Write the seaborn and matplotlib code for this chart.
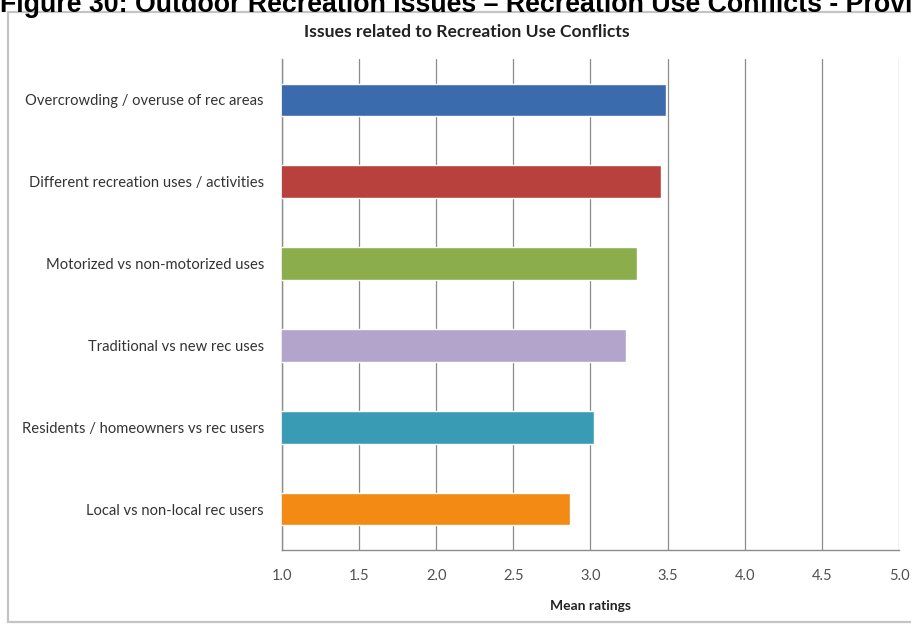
import matplotlib
matplotlib.use("Agg")
import matplotlib.pyplot as plt
from matplotlib.patches import Rectangle
import seaborn as sns
import pandas as pd

# Issues and their mean ratings (1 = not an issue ... 5 = major issue)
issues = [
    "Overcrowding / overuse of rec areas",
    "Different recreation uses / activities",
    "Motorized vs non-motorized uses",
    "Traditional vs new rec uses",
    "Residents / homeowners vs rec users",
    "Local vs non-local rec users",
]
ratings = [3.49, 3.46, 3.30, 3.23, 3.02, 2.87]
bar_colors = ["#3a6cad", "#b8413e", "#8cad4b", "#b3a4cc", "#3a9cb4", "#f28a14"]
x_ticks = [1.0, 1.5, 2.0, 2.5, 3.0, 3.5, 4.0, 4.5, 5.0]

df = pd.DataFrame({"issue": issues, "rating": ratings})

sns.set_theme(style="white")
plt.rcParams["font.family"] = ["Lato", "DejaVu Sans"]

W, H = 912, 628
fig = plt.figure(figsize=(W / 100, H / 100), dpi=100)
fig.patch.set_facecolor("white")

# Outer chart frame
frame = Rectangle((8 / W, 1 - 622 / H), (W + 10 - 8) / W, (622 - 12) / H,
                  transform=fig.transFigure, facecolor="white",
                  edgecolor="#c4c4c4", linewidth=1.6, zorder=-5)
fig.patches.append(frame)

# Figure caption (runs off the top and right edge of the page)
fig.text(0 / W, 1 - 12 / H,
         "Figure 30: Outdoor Recreation Issues \u2013 Recreation Use Conflicts - Province",
         fontsize=19.3, fontweight="bold", family=["Liberation Sans", "DejaVu Sans"],
         color="black", ha="left", va="baseline", zorder=5)

# Chart title, centred on the chart frame
fig.text(467 / W, 1 - 32 / H, "Issues related to Recreation Use Conflicts",
         fontsize=12.6, fontweight="bold", color="#222222",
         ha="center", va="center", zorder=5)

left, right, top, bottom = 282, 899, 59, 550
ax = fig.add_axes([left / W, 1 - bottom / H, (right - left) / W, (bottom - top) / H])
ax.set_zorder(2)
ax.set_facecolor("white")

sns.barplot(data=df, x="rating", y="issue", hue="issue", palette=bar_colors,
            width=0.4, legend=False, ax=ax, saturation=1, zorder=3)

ax.set_xlim(1.0, 5.0)
ax.set_xticks(x_ticks)
ax.set_xticklabels([f"{t:.1f}" for t in x_ticks], fontsize=10.5, color="#505050")
ax.tick_params(axis="x", length=0, pad=14)
ax.tick_params(axis="y", length=0, pad=13, labelsize=10.6, labelcolor="#333333")

for t in x_ticks:
    ax.axvline(t, color="#8c8c8c", linewidth=0.9, zorder=1)

for side in ["top", "right"]:
    ax.spines[side].set_visible(False)
for side in ["left", "bottom"]:
    ax.spines[side].set_color("#8c8c8c")
    ax.spines[side].set_linewidth(1.0)

ax.set_ylabel("")
ax.set_xlabel("Mean ratings", fontsize=10, fontweight="bold", color="#222222", labelpad=12)

fig.savefig("out.png", dpi=100, facecolor="white")
